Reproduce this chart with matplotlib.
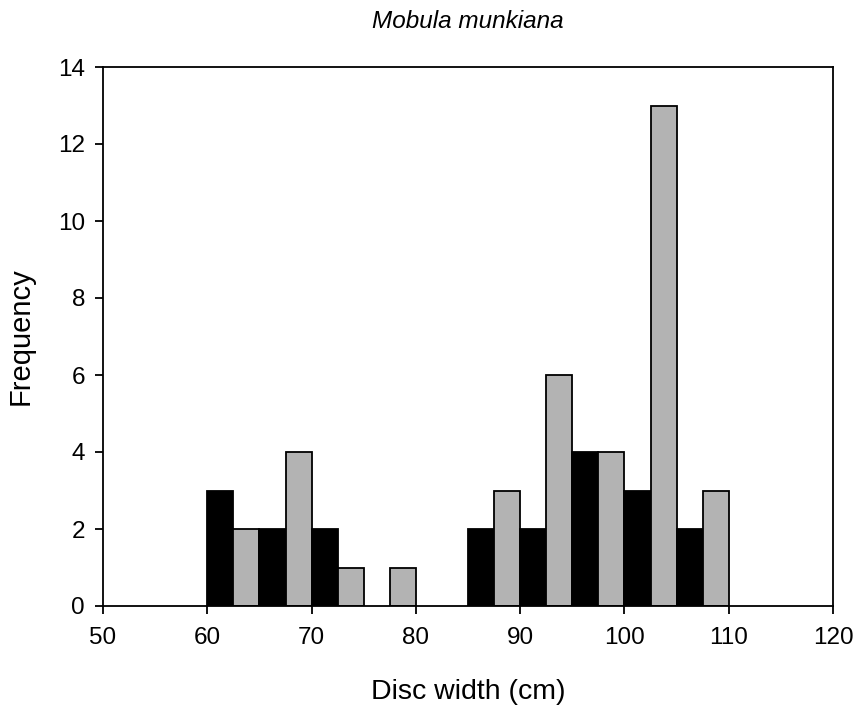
import numpy as np
import matplotlib.pyplot as plt

# bin edges every 2.5 cm, 60 to 110
bin_left = [60, 62.5, 65, 67.5, 70, 72.5, 75, 77.5, 80, 82.5,
            85, 87.5, 90, 92.5, 95, 97.5, 100, 102.5, 105, 107.5]
freq = [3, 2, 2, 4, 2, 1, 0, 1, 0, 0,
        2, 3, 2, 6, 4, 4, 3, 13, 2, 3]
bin_width = 2.5

colors = ['black' if i % 2 == 0 else '#b3b3b3' for i in range(len(freq))]

plt.rcParams['font.family'] = ['Liberation Sans', 'DejaVu Sans']

fig = plt.figure(figsize=(8.56, 7.12), dpi=100)
ax = fig.add_axes([103 / 856, 1 - 606 / 712, 730 / 856, 539 / 712])

for x, h, c in zip(bin_left, freq, colors):
    if h > 0:
        ax.bar(x, h, width=bin_width, align='edge', color=c,
               edgecolor='black', linewidth=1.3)

ax.set_xlim(50, 120)
ax.set_ylim(0, 14)
ax.set_xticks(np.arange(50, 121, 10))
ax.set_yticks(np.arange(0, 15, 2))
ax.tick_params(direction='out', length=6, width=1.3, labelsize=17.5)
ax.tick_params(axis='x', pad=9)
ax.tick_params(axis='y', pad=7)
for s in ax.spines.values():
    s.set_linewidth(1.3)

ax.set_xlabel('Disc width (cm)', fontsize=20.5, labelpad=22)
ax.set_ylabel('Frequency', fontsize=21, labelpad=17)
ax.set_title('Mobula munkiana', fontsize=17.5, style='italic', pad=28)

fig.savefig('out.png', dpi=100)
